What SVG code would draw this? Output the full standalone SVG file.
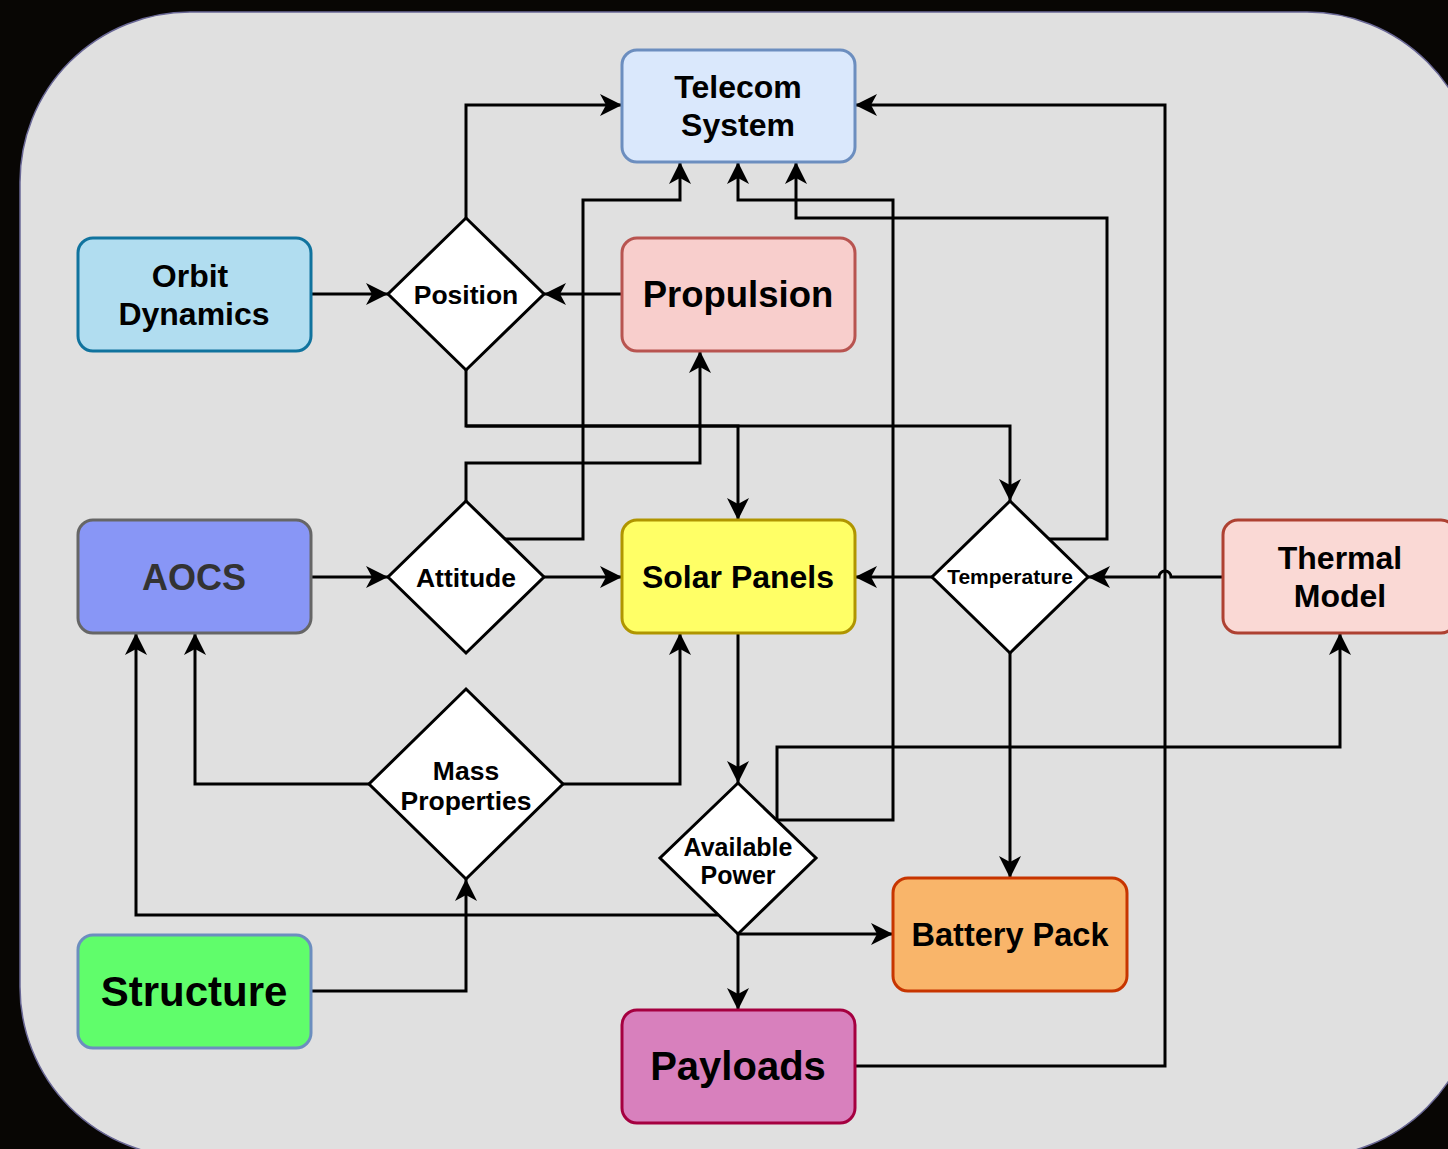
<svg xmlns="http://www.w3.org/2000/svg" width="1448" height="1149" viewBox="0 0 1448 1149">
<defs>
<marker id="arr" markerUnits="userSpaceOnUse" markerWidth="24" markerHeight="24" viewBox="0 0 24 24" refX="23" refY="12" orient="auto">
<path d="M23,12 L1,1 L7,12 L1,23 Z" fill="#000"/>
</marker>
<style>
.box{stroke-width:3}
.dia{fill:#fff;stroke:#000;stroke-width:3}
.t{font-family:"Liberation Sans",Arial,sans-serif;font-weight:bold;text-anchor:middle;fill:#000}
.c{fill:none;stroke:#000;stroke-width:3;marker-end:url(#arr)}
.n{fill:none;stroke:#000;stroke-width:3}
</style>
</defs>
<rect x="0" y="0" width="1448" height="1149" fill="#080604"/>
<rect x="20" y="12" width="1457" height="1145" rx="170" ry="170" fill="#e0e0e0" stroke="#6a6896" stroke-width="1.5"/>

<g id="connectors">
<path class="c" d="M311,294 L388,294"/>
<path class="c" d="M622,294 L544,294"/>
<path class="c" d="M466,218 L466,105 L622,105"/>
<path class="c" d="M466,370 L466,426 L738,426 L738,520"/>
<path class="c" d="M466,426 L1010,426 L1010,501"/>
<path class="c" d="M466,501 L466,463 L700,463 L700,351"/>
<path class="c" d="M505,539 L583,539 L583,200 L680,200 L680,162"/>
<path class="c" d="M544,577 L622,577"/>
<path class="c" d="M311,577 L388,577"/>
<path class="c" d="M932,577 L855,577"/>
<path class="c" d="M1223,577 L1171,577 A6,6 0 0 0 1159,577 L1088,577"/>
<path class="c" d="M1049,539 L1107,539 L1107,218 L796,218 L796,162"/>
<path class="c" d="M777,820 L777,747 L1340,747 L1340,633"/>
<path class="c" d="M777,820 L893,820 L893,200 L738,200 L738,162"/>
<path class="c" d="M738,633 L738,783"/>
<path class="c" d="M738,934 L738,1010"/>
<path class="c" d="M738,934 L893,934"/>
<path class="c" d="M718,915 L136,915 L136,633"/>
<path class="c" d="M369,784 L195,784 L195,633"/>
<path class="c" d="M563,784 L680,784 L680,633"/>
<path class="c" d="M311,991 L466,991 L466,879"/>
<path class="c" d="M1010,653 L1010,878"/>
<path class="c" d="M855,1066 L1165,1066 L1165,105 L855,105"/>
</g>

<g id="telecom">
<rect class="box" x="622" y="50" width="233" height="112" rx="15" fill="#dae8fc" stroke="#6c8ebf"/>
<text class="t" x="738" y="98" font-size="32">Telecom</text>
<text class="t" x="738" y="136" font-size="32">System</text>
</g>
<g id="orbit">
<rect class="box" x="78" y="238" width="233" height="113" rx="15" fill="#b1ddf0" stroke="#10739e"/>
<text class="t" x="190" y="287" font-size="32">Orbit</text>
<text class="t" x="194" y="325" font-size="32">Dynamics</text>
</g>
<g id="propulsion">
<rect class="box" x="622" y="238" width="233" height="113" rx="15" fill="#f8cecc" stroke="#b85450"/>
<text class="t" x="738" y="307" font-size="36.5">Propulsion</text>
</g>
<g id="aocs">
<rect class="box" x="78" y="520" width="233" height="113" rx="15" fill="#8896f6" stroke="#666666"/>
<text class="t" x="194" y="590" font-size="36" style="fill:#333333">AOCS</text>
</g>
<g id="solar">
<rect class="box" x="622" y="520" width="233" height="113" rx="15" fill="#ffff66" stroke="#b09500"/>
<text class="t" x="738" y="588" font-size="32">Solar Panels</text>
</g>
<g id="thermal">
<rect class="box" x="1223" y="520" width="233" height="113" rx="15" fill="#fad9d5" stroke="#ae4132"/>
<text class="t" x="1340" y="569" font-size="32">Thermal</text>
<text class="t" x="1340" y="607" font-size="32">Model</text>
</g>
<g id="structure">
<rect class="box" x="78" y="935" width="233" height="113" rx="15" fill="#60fd6b" stroke="#6c8ebf"/>
<text class="t" x="194" y="1006" font-size="42">Structure</text>
</g>
<g id="battery">
<rect class="box" x="893" y="878" width="234" height="113" rx="15" fill="#f9b56a" stroke="#c73500"/>
<text class="t" x="1010" y="946" font-size="32.5">Battery Pack</text>
</g>
<g id="payloads">
<rect class="box" x="622" y="1010" width="233" height="113" rx="15" fill="#d880bd" stroke="#a50040"/>
<text class="t" x="738" y="1080" font-size="40">Payloads</text>
</g>
<g id="position">
<polygon class="dia" points="466,218 544,294 466,370 388,294"/>
<text class="t" x="466" y="304" font-size="26.5">Position</text>
</g>
<g id="attitude">
<polygon class="dia" points="466,501 544,577 466,653 388,577"/>
<text class="t" x="466" y="587" font-size="26.5">Attitude</text>
</g>
<g id="temperature">
<polygon class="dia" points="1010,501 1088,577 1010,653 932,577"/>
<text class="t" x="1010" y="584" font-size="21">Temperature</text>
</g>
<g id="mass">
<polygon class="dia" points="466,689 563,784 466,879 369,784"/>
<text class="t" x="466" y="780" font-size="26.5">Mass</text>
<text class="t" x="466" y="810" font-size="26.5">Properties</text>
</g>
<g id="power">
<polygon class="dia" points="738,783 816,858 738,934 660,858"/>
<text class="t" x="738" y="856" font-size="25">Available</text>
<text class="t" x="738" y="884" font-size="25">Power</text>
</g>
</svg>
